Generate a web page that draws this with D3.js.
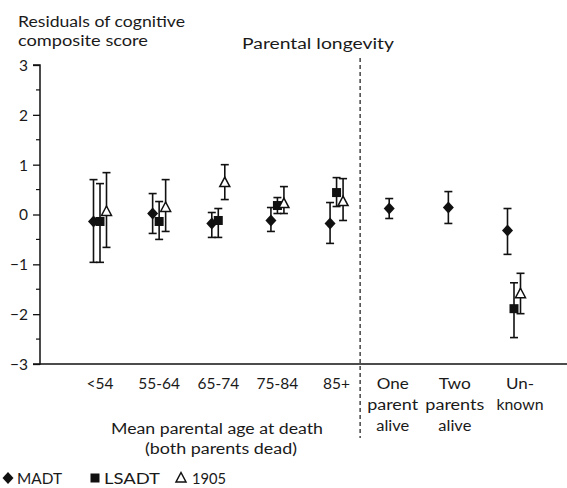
<!DOCTYPE html>
<html><head><meta charset="utf-8">
<script src="https://cdnjs.cloudflare.com/ajax/libs/d3/7.8.5/d3.min.js"></script>
<style>body{margin:0;background:#fff}svg{display:block}text{font-family:Lato,"Open Sans",sans-serif;fill:#1a1a1a}</style>
</head><body><svg id="c" width="567" height="488"></svg>
<script>
const categories = ["<54","55-64","65-74","75-84","85+","One","Two","Unknown"];
const categoryLabels = [["<54"],["55-64"],["65-74"],["75-84"],["85+"],["One","parent","alive"],["Two","parents","alive"],["Un-","known"]];
const series = ["MADT","LSADT","1905"];
// value, lower, upper (null = no data)
const madtValue = [-0.14, 0.02, -0.18, -0.12, -0.18, 0.12, 0.14, -0.32];
const madtLow   = [-0.96, -0.38, -0.46, -0.34, -0.58, -0.08, -0.18, -0.80];
const madtHigh  = [0.70, 0.42, 0.04, 0.14, 0.24, 0.32, 0.46, 0.12];
const lsadtValue = [-0.14, -0.14, -0.12, 0.18, 0.44, null, null, -1.89];
const lsadtLow   = [-0.96, -0.50, -0.46, 0.02, 0.16, null, null, -2.47];
const lsadtHigh  = [0.62, 0.26, 0.12, 0.34, 0.74, null, null, -1.37];
const s1905Value = [0.06, 0.14, 0.64, 0.22, 0.26, null, null, -1.59];
const s1905Low   = [-0.66, -0.34, 0.30, 0.02, -0.12, null, null, -1.99];
const s1905High  = [0.84, 0.70, 1.00, 0.56, 0.72, null, null, -1.18];
const yTicks = [-3,-2,-1,0,1,2,3];
const yMinorTicks = [-2.5,-1.5,-0.5,0.5,1.5,2.5];

const svg = d3.select("#c");
const y = d3.scaleLinear().domain([-3,3]).range([364,65]);
const x = d3.scalePoint().domain(categories).range([100,514]);
const off = d3.scalePoint().domain(series).range([-6.5,6.5]);
const axisX = 40;
const labelNudge = {"One":-3,"Unknown":6};

// target text widths (layout) to mimic the humanist reference font
const fitWidths = {"Residuals of cognitive":167,"composite score":130,"Parental longevity":152,
  "Mean parental age at death":212,"(both parents dead)":152,"parent":51,"parents":59,"alive":33,
  "One":32,"Two":32,"known":47,"Un-":28,"MADT":45,"LSADT":56,"1905":34};
function fit(sel, str){ if(fitWidths[str]) sel.attr("textLength",fitWidths[str]).attr("lengthAdjust","spacingAndGlyphs"); return sel; }

// y axis
const ya = svg.append("g").attr("transform",`translate(${axisX},0)`)
  .call(d3.axisLeft(y).tickValues(yTicks).tickSize(7).tickFormat(d=>String(d).replace("-","\u2212")));
ya.select(".domain").attr("stroke","#111").attr("stroke-width",1.5).attr("d",`M-7,${y(3)}H0V${y(-3)}H-7`);
ya.selectAll(".tick line").attr("stroke","#111").attr("stroke-width",1.3);
ya.selectAll(".tick text").attr("x",-12).attr("dy","0.35em").style("font-size","15.5px").style("font-family","Lato,sans-serif").attr("fill","#1a1a1a");
svg.append("g").selectAll("line").data(yMinorTicks).join("line")
  .attr("x1",axisX-4).attr("x2",axisX).attr("y1",d=>y(d)).attr("y2",d=>y(d)).attr("stroke","#111").attr("stroke-width",1.2);

// x axis line
svg.append("line").attr("x1",axisX).attr("x2",567).attr("y1",y(-3)).attr("y2",y(-3)).attr("stroke","#111").attr("stroke-width",1.5);

// dashed separator
const sepX = (x("85+")+x("One"))/2 - 6;
svg.append("line").attr("x1",sepX).attr("x2",sepX).attr("y1",58).attr("y2",438)
  .attr("stroke","#444").attr("stroke-width",1.5).attr("stroke-dasharray","4,3");

// titles
const t = svg.append("text").attr("y",27).style("font-size","15.5px");
fit(t.append("tspan").attr("x",18).text("Residuals of cognitive"),"Residuals of cognitive");
fit(t.append("tspan").attr("x",18).attr("dy",19).text("composite score"),"composite score");
fit(svg.append("text").attr("x",242).attr("y",49).style("font-size","15.5px").text("Parental longevity"),"Parental longevity");

// category labels
categoryLabels.forEach((lines,i)=>{
  lines.forEach((l,j)=>{
    const w = fitWidths[l];
    const cx = x(categories[i]) + (labelNudge[categories[i]]||0);
    const tx = svg.append("text").attr("y",389+21*j).style("font-size","15.5px").text(l);
    if(w){ tx.attr("x",cx-w/2); fit(tx,l); } else tx.attr("x",cx).attr("text-anchor","middle");
  });
});
fit(svg.append("text").attr("x",111).attr("y",434).style("font-size","15.5px").text("Mean parental age at death"),"Mean parental age at death");
fit(svg.append("text").attr("x",145).attr("y",454).style("font-size","15.5px").text("(both parents dead)"),"(both parents dead)");

// data
const data = [];
const sets = {MADT:[madtValue,madtLow,madtHigh], LSADT:[lsadtValue,lsadtLow,lsadtHigh], "1905":[s1905Value,s1905Low,s1905High]};
series.forEach(s=>{
  const [v,lo,hi] = sets[s];
  categories.forEach((c,i)=>{ if(v[i]!==null) data.push({s,c,v:v[i],lo:lo[i],hi:hi[i]}); });
});
const cap = 4;
const g = svg.append("g");
data.forEach(d=>{
  const cx = x(d.c)+off(d.s);
  const gg = g.append("g");
  gg.append("line").attr("x1",cx).attr("x2",cx).attr("y1",y(d.hi)).attr("y2",y(d.lo)).attr("stroke","#111").attr("stroke-width",1.6);
  [d.hi,d.lo].forEach(e=>gg.append("line").attr("x1",cx-cap).attr("x2",cx+cap).attr("y1",y(e)).attr("y2",y(e)).attr("stroke","#111").attr("stroke-width",1.6));
});
function marker(sel, s, cx, cy){
  if(s==="MADT") sel.append("path").attr("d",`M${cx},${cy-6}L${cx+5.5},${cy}L${cx},${cy+6}L${cx-5.5},${cy}Z`).attr("fill","#111");
  else if(s==="LSADT") sel.append("rect").attr("x",cx-4.5).attr("y",cy-4.5).attr("width",9).attr("height",9).attr("fill","#111");
  else sel.append("path").attr("d",`M${cx},${cy-5.5}L${cx+5},${cy+4}L${cx-5},${cy+4}Z`).attr("fill","#fff").attr("stroke","#111").attr("stroke-width",1.5);
}
data.forEach(d=>marker(g, d.s, x(d.c)+off(d.s), y(d.v)));

// legend
const legendItems = [{s:"MADT",x:8,tx:17,label:"MADT"},{s:"LSADT",x:95,tx:104,label:"LSADT"},{s:"1905",x:181,tx:192,label:"1905"}];
legendItems.forEach(it=>{
  marker(svg, it.s, it.x, 478);
  fit(svg.append("text").attr("x",it.tx).attr("y",484).style("font-size","15.5px").text(it.label),it.label);
});
</script></body></html>
